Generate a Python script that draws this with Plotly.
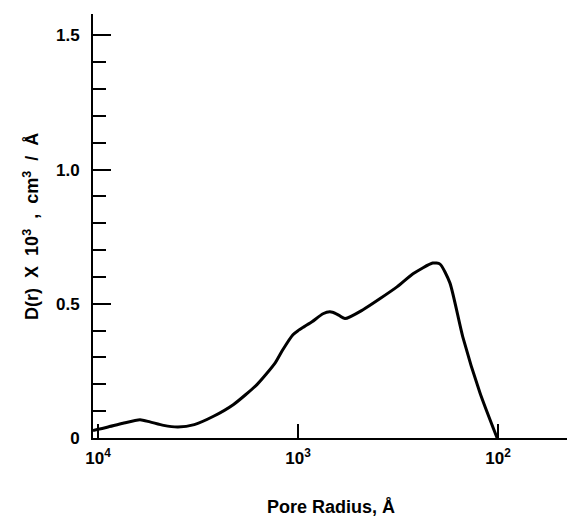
import plotly.graph_objects as go

# Pore radius (Angstrom) and D(r) x 10^3 (cm^3/Angstrom)
radius = [10593, 9000, 7500, 6166, 5500, 4700, 3980, 3300, 2660, 2100, 1600, 1300,
          1189, 1060, 1000, 930, 851, 750, 692, 640, 582, 473, 320, 266, 212, 195,
          174, 150, 123, 101]
d_r = [0.028, 0.040, 0.055, 0.068, 0.060, 0.047, 0.041, 0.050, 0.080, 0.125, 0.200,
       0.280, 0.330, 0.385, 0.400, 0.415, 0.433, 0.463, 0.470, 0.462, 0.445, 0.478,
       0.563, 0.612, 0.652, 0.648, 0.578, 0.377, 0.168, 0.0]

x_tickvals = [1e4, 1e3, 1e2]
x_ticktext = ["10<sup>4</sup>", "10<sup>3</sup>", "10<sup>2</sup>"]
y_tickvals = [0, 0.5, 1.0, 1.5]
y_ticktext = ["0", "0.5", "1.0", "1.5"]
sp = "\u00a0\u00a0"
x_title = "Pore Radius,\u00a0Å"
y_title = f"D(r){sp}X{sp}10<sup>3</sup>{sp},{sp}cm<sup>3</sup>{sp}/{sp}Å"

font = "Liberation Sans, Arial, sans-serif"

fig = go.Figure()
fig.add_trace(go.Scatter(
    x=radius, y=d_r, mode="lines",
    line=dict(color="black", width=3, shape="spline", smoothing=0.6),
    showlegend=False, hoverinfo="skip",
))

fig.update_layout(
    width=567, height=516,
    margin=dict(l=93, r=0, t=14, b=78),
    paper_bgcolor="white", plot_bgcolor="white",
    font=dict(family=font, color="black", size=16),
    xaxis=dict(
        type="log", range=[4.025, 1.655], automargin=False,
        showline=True, linecolor="black", linewidth=2,
        showgrid=False, zeroline=False,
        ticks="inside", ticklen=14, tickwidth=2, tickcolor="black",
        tickvals=x_tickvals, ticktext=x_ticktext,
        tickfont=dict(size=17, weight="bold"),
        ticklabelstandoff=4,
    ),
    yaxis=dict(
        range=[0, 1.58], automargin=False,
        showline=True, linecolor="black", linewidth=2,
        showgrid=False, zeroline=False,
        ticks="inside", ticklen=18, tickwidth=2, tickcolor="black",
        tickvals=y_tickvals, ticktext=y_ticktext,
        tickfont=dict(size=17, weight="bold"),
        ticklabelstandoff=8,
        minor=dict(dtick=0.1, ticks="inside", ticklen=13, tickwidth=1.5,
                   tickcolor="black", showgrid=False),
    ),
    annotations=[
        dict(text=x_title, xref="paper", yref="paper", x=0.502, y=-0.163,
             xanchor="center", yanchor="middle", showarrow=False,
             font=dict(size=18, weight="bold")),
        dict(text=y_title, xref="paper", yref="paper", x=-0.131, y=0.5,
             xanchor="center", yanchor="middle", showarrow=False, textangle=-90,
             font=dict(size=18, weight="bold")),
    ],
)

fig.write_html("out.html", config={"displayModeBar": False},
               post_script="document.body.style.margin='0';document.body.style.overflow='hidden';")
